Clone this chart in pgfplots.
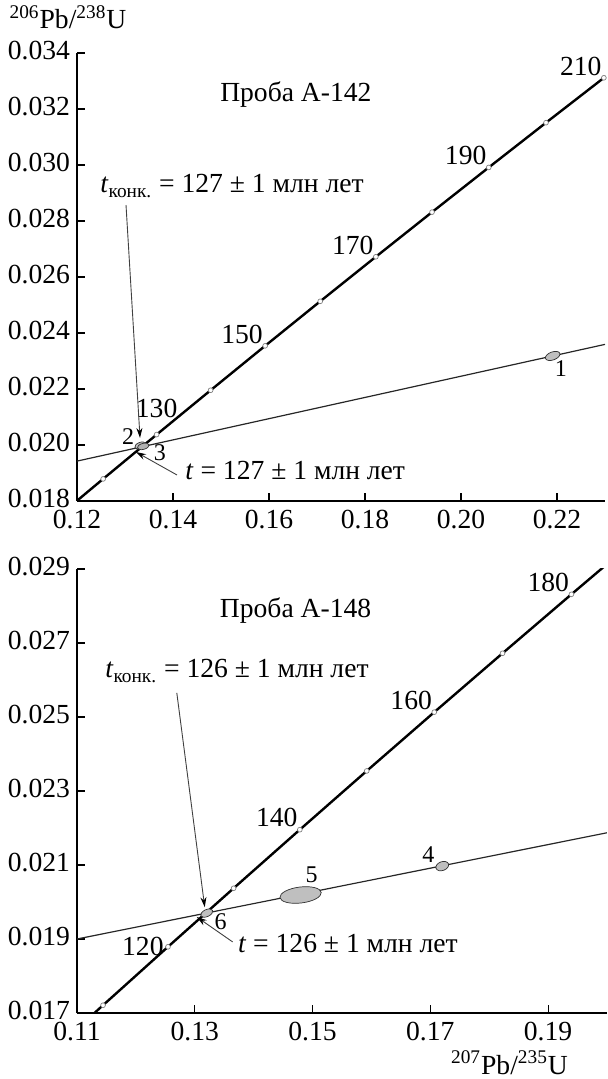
\documentclass[border=0pt]{standalone}
\usepackage{fontspec}
\setmainfont{Liberation Serif}
\usepackage{pgfplots}
\pgfplotsset{compat=1.18}
\usetikzlibrary{arrows.meta}

\pgfplotsset{
  myax/.style={
    scale only axis,
    axis x line=bottom, axis y line=left,
    axis line style={-, line width=0.8pt, black},
    tick align=inside,
    major tick length=4pt,
    tick style={line width=0.6pt, black},
    scaled ticks=false,
    every tick label/.append style={font=\fontsize{13.8}{15}\selectfont},
    /pgf/number format/assume math mode=true,
    xticklabel style={yshift=-1pt,/pgf/number format/.cd,fixed,fixed zerofill,precision=2},
    yticklabel style={yshift=1pt,/pgf/number format/.cd,fixed,fixed zerofill,precision=3},
  },
  conc/.style={line width=1.2pt, black, no marks},
  disc/.style={line width=0.6pt, black!85, no marks},
  agemk/.style={only marks, mark=*, mark size=1.2pt, mark options={fill=white, draw=gray, line width=0.35pt}},
}
\tikzset{
  ann/.style={line width=0.45pt, black!75, -{Stealth[length=5pt,width=3pt,black]}},
  lab/.style={font=\fontsize{13.8}{15}\selectfont},
  elab/.style={font=\fontsize{12}{14}\selectfont},
}

\pgfplotstableread{
x y
0.10350 0.015633
0.11442 0.017210
0.12545 0.018789
0.13659 0.020371
0.14784 0.021955
0.15920 0.023542
0.17067 0.025131
0.18226 0.026722
0.19396 0.028316
0.20578 0.029912
0.21771 0.031511
0.22976 0.033113
0.24193 0.034716
}\concordia

\begin{document}
\begin{tikzpicture}[font=\fontsize{13.8}{15}\selectfont]
\path[use as bounding box] (0,0) rectangle (303.5pt,539.5pt);

% ---------------- top panel: A-142
\begin{axis}[myax, at={(38.5pt,289pt)}, anchor=south west,
  width=264pt, height=224pt,
  xmin=0.12, xmax=0.23, ymin=0.018, ymax=0.034,
  xtick={0.12,0.14,0.16,0.18,0.20,0.22},
  ytick={0.018,0.020,0.022,0.024,0.026,0.028,0.030,0.032,0.034}]
\addplot[disc] coordinates {(0.12,0.019424) (0.23,0.023593)};
\addplot[conc] table[x=x,y=y] {\concordia};
\addplot[agemk] coordinates {(0.12545,0.018789) (0.13659,0.020371) (0.14784,0.021955) (0.15920,0.023542) (0.17067,0.025131) (0.18226,0.026722) (0.19396,0.028316) (0.20578,0.029912) (0.21771,0.031511) (0.22976,0.033113)};
% ellipses
\addplot[only marks, mark=*, mark size=1.6pt, mark options={fill=black!25, draw=black!80, line width=0.35pt, rotate=20, xscale=1.8}] coordinates {(0.1332,0.01998)};
\addplot[only marks, mark=*, mark size=1.5pt, mark options={fill=black!30, draw=black!80, line width=0.35pt, rotate=15, xscale=2.0}] coordinates {(0.1338,0.01995)};
\addplot[only marks, mark=*, mark size=2pt, mark options={fill=black!25, draw=black!80, line width=0.35pt, rotate=20, xscale=1.9}] coordinates {(0.2191,0.02318)};
% age labels
\node[lab, anchor=south] at (axis cs:0.13659,0.020371) [yshift=5pt] {130};
\node[lab, anchor=south east, inner sep=1pt] at (axis cs:0.15920,0.023542) {150};
\node[lab, anchor=south east, inner sep=1pt] at (axis cs:0.18226,0.026722) {170};
\node[lab, anchor=south east, inner sep=1pt] at (axis cs:0.20578,0.029912) {190};
\node[lab, anchor=south east, inner sep=1pt] at (axis cs:0.22976,0.033113) {210};
% ellipse labels
\node[elab] at (axis cs:0.13063,0.020286) {2};
\node[elab] at (axis cs:0.13729,0.019714) {3};
\node[elab] at (axis cs:0.22083,0.022714) {1};
% texts
\node[lab] at (axis cs:0.1656,0.0325) {Проба А-142};
\node[lab, anchor=base west, inner sep=0pt] at (axis cs:0.12479,0.0290) {\textit{t}\textsubscript{конк.} = 127 ± 1 млн лет};
\node[lab, anchor=base west, inner sep=0pt] at (axis cs:0.1425,0.01875) {\textit{t} = 127 ± 1 млн лет};
\draw[ann] (axis cs:0.13021,0.02857) -- (axis cs:0.13313,0.02025);
\draw[ann] (axis cs:0.14083,0.018929) -- (axis cs:0.13229,0.01975);
\end{axis}

% ---------------- bottom panel: A-148
\begin{axis}[myax, at={(38.5pt,33pt)}, anchor=south west,
  width=265pt, height=222pt,
  xmin=0.11, xmax=0.20, ymin=0.017, ymax=0.029,
  xtick={0.11,0.13,0.15,0.17,0.19},
  ytick={0.017,0.019,0.021,0.023,0.025,0.027,0.029}]
\addplot[disc] coordinates {(0.11,0.01900) (0.20,0.021871)};
\addplot[conc] table[x=x,y=y] {\concordia};
\addplot[agemk] coordinates {(0.11442,0.017210) (0.12545,0.018789) (0.13659,0.020371) (0.14784,0.021955) (0.15920,0.023542) (0.17067,0.025131) (0.18226,0.026722) (0.19396,0.028316)};
% ellipses
\addplot[only marks, mark=*, mark size=4pt, mark options={fill=black!25, draw=black!80, line width=0.35pt, rotate=7, xscale=2.6}] coordinates {(0.14797,0.020189)};
\addplot[only marks, mark=*, mark size=2.2pt, mark options={fill=black!25, draw=black!80, line width=0.35pt, rotate=20, xscale=1.5}] coordinates {(0.17203,0.02097)};
\addplot[only marks, mark=*, mark size=1.75pt, mark options={fill=black!25, draw=black!80, line width=0.35pt, rotate=25, xscale=1.85}] coordinates {(0.13203,0.0197)};
% age labels
\node[lab, anchor=east, inner sep=1pt] at (axis cs:0.12545,0.018789) [xshift=-1pt] {120};
\node[lab, anchor=south east, inner sep=1pt] at (axis cs:0.14784,0.021955) {140};
\node[lab, anchor=south east, inner sep=1pt] at (axis cs:0.17067,0.025131) {160};
\node[lab, anchor=south east, inner sep=1pt] at (axis cs:0.19396,0.028316) {180};
% ellipse labels
\node[elab] at (axis cs:0.16966,0.02127) {4};
\node[elab] at (axis cs:0.14983,0.02073) {5};
\node[elab] at (axis cs:0.13441,0.01946) {6};
% texts
\node[lab] at (axis cs:0.14712,0.02789) {Проба А-148};
\node[lab, anchor=base west, inner sep=0pt] at (axis cs:0.114746,0.026054) {\textit{t}\textsubscript{конк.} = 126 ± 1 млн лет};
\node[lab, anchor=base west, inner sep=0pt] at (axis cs:0.13729,0.018622) {\textit{t} = 126 ± 1 млн лет};
\draw[ann] (axis cs:0.12695,0.02565) -- (axis cs:0.13169,0.01986);
\draw[ann] (axis cs:0.13644,0.01892) -- (axis cs:0.13034,0.019595);
\end{axis}

% axis titles
\node[lab] at (34pt,531pt) {\textsuperscript{206}Pb/\textsuperscript{238}U};
\node[lab, anchor=south, inner sep=0pt] at (254.75pt,2pt) {\textsuperscript{207}Pb/\textsuperscript{235}U};
\end{tikzpicture}
\end{document}
